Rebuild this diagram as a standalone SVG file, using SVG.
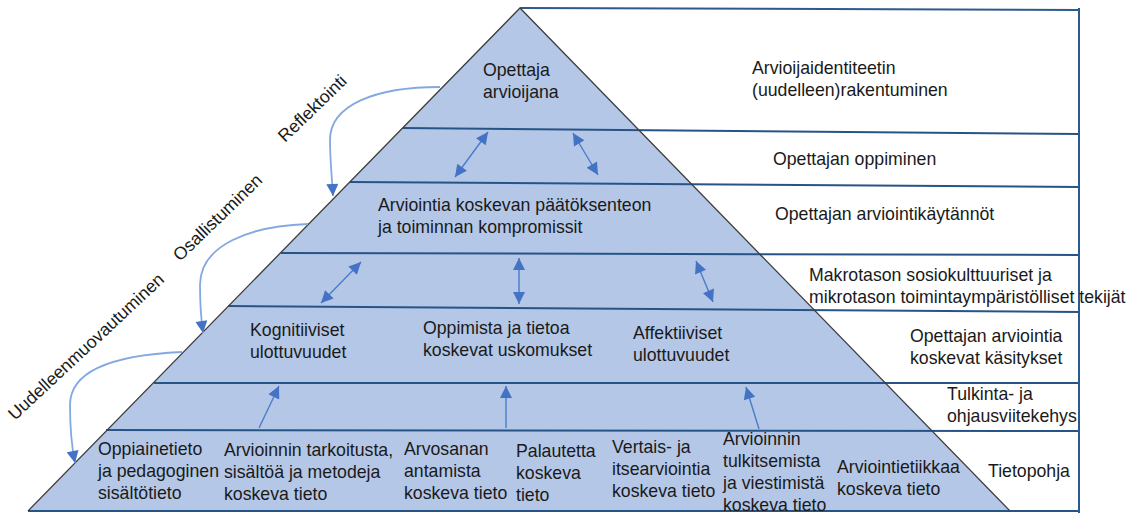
<svg xmlns="http://www.w3.org/2000/svg" width="1138" height="513" viewBox="0 0 1138 513">
<defs>
<style>
text{font-family:"Liberation Sans",Arial,sans-serif;font-size:17.7px;fill:#1a1a1a}
.band{stroke:#275486;stroke-width:2;fill:none}
.frame{stroke:#2d5a8e;stroke-width:2;fill:none}
.edge{stroke:#3d3d3d;stroke-width:1.3;fill:none}
.arr{stroke:#4a7cc9;stroke-width:1.4;fill:none}
.curve{stroke:#84a9e0;stroke-width:1.8;fill:none}
</style>
<marker id="ah" viewBox="0 0 10 10" refX="10" refY="5" markerUnits="userSpaceOnUse" markerWidth="13" markerHeight="12" orient="auto-start-reverse">
<path d="M0,0 L10,5 L0,10 z" fill="#4472c4"/>
</marker>
</defs>
<rect width="1138" height="513" fill="#ffffff"/>
<g id="pyramid">
<polygon points="520,8 28,511 1010,511" fill="#b4c7e7"/>
</g>
<g id="bands">
<line class="frame" x1="520" y1="8" x2="1079" y2="10"/>
<line class="band" x1="403" y1="128" x2="1080" y2="134"/>
<line class="band" x1="350" y1="182" x2="1080" y2="187"/>
<line class="band" x1="281" y1="253" x2="1080" y2="255"/>
<line class="band" x1="228" y1="306" x2="1080" y2="312"/>
<line class="band" x1="154" y1="383" x2="1080" y2="383"/>
<line class="band" x1="106" y1="430" x2="1080" y2="431"/>
<line class="band" x1="28" y1="511" x2="1080" y2="511"/>
<line class="frame" x1="1079" y1="8" x2="1079" y2="513"/>
<polyline class="edge" points="28,511 520,8 1010,511"/>
</g>
<g id="connectors">
<line class="arr" x1="455" y1="177" x2="488" y2="132" marker-start="url(#ah)" marker-end="url(#ah)"/>
<line class="arr" x1="573" y1="133" x2="598" y2="175" marker-start="url(#ah)" marker-end="url(#ah)"/>
<line class="arr" x1="321" y1="303" x2="361" y2="262" marker-start="url(#ah)" marker-end="url(#ah)"/>
<line class="arr" x1="519" y1="258" x2="519" y2="304" marker-start="url(#ah)" marker-end="url(#ah)"/>
<line class="arr" x1="696" y1="261" x2="713" y2="302" marker-start="url(#ah)" marker-end="url(#ah)"/>
<line class="arr" x1="259" y1="428" x2="279" y2="386" marker-end="url(#ah)"/>
<line class="arr" x1="506" y1="428" x2="506" y2="386" marker-end="url(#ah)"/>
<line class="arr" x1="759" y1="429" x2="746" y2="387" marker-end="url(#ah)"/>
<path class="curve" d="M440,87 C375,87 330,105 330,140 C330,160 332,178 333,196" marker-end="url(#ah)"/>
<path class="curve" d="M308,224 C250,226 200,245 200,285 C200,305 201,318 203,333" marker-end="url(#ah)"/>
<path class="curve" d="M182,352 C115,355 70,370 70,405 C70,430 72,448 75,463" marker-end="url(#ah)"/>
</g>
<g id="cycle-labels">
<text transform="translate(285,143) rotate(-44)">Reflektointi</text>
<text transform="translate(180,262) rotate(-44)">Osallistuminen</text>
<text transform="translate(15,421) rotate(-43)">Uudelleenmuovautuminen</text>
</g>
<g id="node-opettaja-arvioijana"><text x="483" y="76">Opettaja</text><text x="483" y="98">arvioijana</text></g>
<g id="node-kompromissit"><text x="378" y="211">Arviointia koskevan päätöksenteon</text><text x="378" y="233">ja toiminnan kompromissit</text></g>
<g id="node-kognitiiviset"><text x="250" y="336">Kognitiiviset</text><text x="250" y="358">ulottuvuudet</text></g>
<g id="node-uskomukset"><text x="423" y="334">Oppimista ja tietoa</text><text x="423" y="356">koskevat uskomukset</text></g>
<g id="node-affektiiviset"><text x="633" y="339">Affektiiviset</text><text x="633" y="361">ulottuvuudet</text></g>
<g id="node-oppiainetieto"><text x="98" y="455">Oppiainetieto</text><text x="98" y="477">ja pedagoginen</text><text x="98" y="499">sisältötieto</text></g>
<g id="node-tarkoitus"><text x="224" y="456">Arvioinnin tarkoitusta,</text><text x="224" y="478">sisältöä ja metodeja</text><text x="224" y="500">koskeva tieto</text></g>
<g id="node-arvosana"><text x="404" y="455">Arvosanan</text><text x="404" y="477">antamista</text><text x="404" y="499">koskeva tieto</text></g>
<g id="node-palaute"><text x="516" y="457">Palautetta</text><text x="516" y="479">koskeva</text><text x="516" y="501">tieto</text></g>
<g id="node-vertais"><text x="612" y="453">Vertais- ja</text><text x="612" y="475">itsearviointia</text><text x="612" y="497">koskeva tieto</text></g>
<g id="node-tulkitseminen"><text x="723" y="445">Arvioinnin</text><text x="723" y="467">tulkitsemista</text><text x="723" y="489">ja viestimistä</text><text x="723" y="511">koskeva tieto</text></g>
<g id="node-etiikka"><text x="837" y="473">Arviointietiikkaa</text><text x="837" y="495">koskeva tieto</text></g>
<g id="label-identiteetti"><text x="752" y="74">Arvioijaidentiteetin</text><text x="752" y="96">(uudelleen)rakentuminen</text></g>
<g id="label-oppiminen"><text x="773" y="165">Opettajan oppiminen</text></g>
<g id="label-kaytannot"><text x="775" y="220">Opettajan arviointikäytännöt</text></g>
<g id="label-tekijat"><text x="809" y="281">Makrotason sosiokulttuuriset ja</text><text x="809" y="303">mikrotason toimintaympäristölliset tekijät</text></g>
<g id="label-kasitykset"><text x="910" y="342">Opettajan arviointia</text><text x="910" y="364">koskevat käsitykset</text></g>
<g id="label-viitekehys"><text x="947" y="400">Tulkinta- ja</text><text x="947" y="422">ohjausviitekehys</text></g>
<g id="label-tietopohja"><text x="988" y="477">Tietopohja</text></g>
</svg>
